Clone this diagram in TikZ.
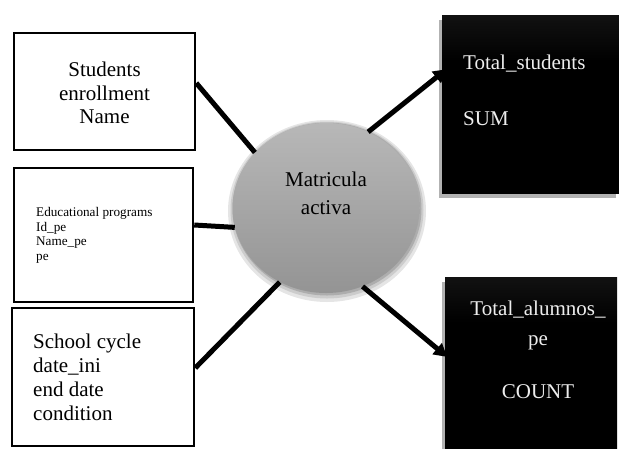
\documentclass[tikz,border=0pt]{standalone}
\usepackage{fontspec}
\setmainfont{Liberation Serif}
\usetikzlibrary{shapes.geometric,arrows.meta,shadows}
\pgfdeclareverticalshading{kshade}{100bp}{color(0bp)=(black); color(62bp)=(black); color(100bp)=(black!80)}
\begin{document}
\begin{tikzpicture}[x=1pt,y=-1pt,
  wbox/.style={draw=black,line width=2.5pt,rectangle,inner sep=0pt,fill=white},
  kbox/.style={rectangle,inner sep=0pt,shading=kshade,
    drop shadow={shadow xshift=-3.5pt,shadow yshift=-5pt,fill=black!30,opacity=1}},
  conn/.style={line width=5pt,black},
  tip/.style={-{Triangle[length=13pt,width=14pt]}},
  txt/.style={inner sep=0pt,font=\fontsize{21}{23.5}\selectfont},
  smalltxt/.style={inner sep=0pt,font=\fontsize{13.2}{14.4}\selectfont},
  wtxt/.style={inner sep=0pt,text=white!93!black}]
\useasboundingbox (0,0) rectangle (619,448);
% circle shadow (glow)
\fill[black!10] (327,211) ellipse [x radius=99pt, y radius=91pt];
\fill[black!20] (327,210) ellipse [x radius=96.5pt, y radius=88.5pt];
\fill[black!32] (327,209) ellipse [x radius=94.5pt, y radius=86.5pt];
\node[ellipse,minimum width=187pt,minimum height=170pt,inner sep=0pt,
  top color=black!28,bottom color=black!42] (c) at (326,208) {};
\node[txt,align=center,font=\fontsize{21}{28}\selectfont] (ct) at (326,193.8) {Matricula\\activa};
% left boxes
\node[wbox,minimum width=181pt,minimum height=117pt] (b1) at (104.5,91.5) {};
\node[wbox,minimum width=179pt,minimum height=134pt] (b2) at (103.5,235) {};
\node[wbox,minimum width=182pt,minimum height=138pt] (b3) at (103,377) {};
\node[txt,align=center] (t1) at (104.5,93.3) {Students\\enrollment\\Name};
\node[smalltxt,align=left,anchor=west] (t2) at (36,235.4) {Educational programs\\Id\_pe\\Name\_pe\\pe};
\node[txt,align=left,anchor=north west,font=\fontsize{21}{24}\selectfont] (t3) at (33,333.6) {School cycle\\date\_ini\\end date\\condition};
% right black boxes
\node[kbox,minimum width=177pt,minimum height=178pt] (k1) at (530.5,104) {};
\node[kbox,minimum width=172pt,minimum height=175pt] (k2) at (531,364.5) {};
\node[wtxt,align=left,anchor=north west,font=\fontsize{21}{56}\selectfont] (kt1) at (463,54.6) {Total\_students\\SUM};
\node[wtxt,align=center,anchor=north,font=\fontsize{21}{30}\selectfont] (kt2) at (538,300.6) {Total\_alumnos\_\\pe\\[23pt]COUNT};
% connectors
\draw[conn] ([yshift=8.5pt]b1.east) -- (c.142);
\draw[conn] ([yshift=10pt]b2.east) -- (c.192);
\draw[conn] ([yshift=9pt]b3.east) -- (c.238);
\draw[conn,tip,shorten >=-6pt] (c.61) -- ([yshift=31pt]k1.west);
\draw[conn,tip,shorten >=-3pt] (c.-65) -- ([yshift=9.5pt]k2.west);
\end{tikzpicture}
\end{document}
